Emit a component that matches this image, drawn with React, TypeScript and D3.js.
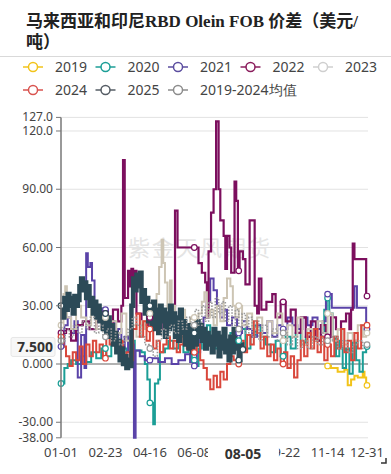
import React from 'react';
import * as d3 from 'd3';

type Pt = [number, number];

// ---- data (day of year, value) ----
const seriesNames = ['2019', '2020', '2021', '2022', '2023', '2024', '2025', '2019-2024均值'];
const seriesColors = ['#f2c31a', '#1b9e96', '#5a43a8', '#7c0f5e', '#cdc5b4', '#d9473b', '#2c4a57', '#9a9a9a'];
const legendColors = ['#f2c31a', '#1b9e96', '#5b4d9f', '#8a1c5c', '#cfcfcf', '#d9534f', '#555c64', '#8c8c8c'];

const xTickDays = [0, 53, 106, 159, 212, 265, 318, 365];
const xTickLabels = ['01-01', '02-23', '04-16', '06-08', '07-31', '09-22', '11-14', '12-31'];
const yTickValues = [127, 120, 90, 60, 30, 0, -30, -38];
const yTickLabels = ['127.0', '120.0', '90.00', '60.00', '30.00', '0.000', '-30.00', '-38.00'];

const pointerDay = 217;
const pointerDayLabel = '08-05';
const pointerValue = 7.5;
const pointerValueLabel = '7.500';

// 2019 series only starts in November
const s2019: Pt[] = [[318,-1],[322,-2],[330,-4],[338,-3],[342,-11],[346,-8],[350,-6],[354,-7],[360,-4],[362,-7],[364,-11]];

const s2020: Pt[] = [[0,-10],[4,-2],[8,0],[12,2],[18,0],[24,4],[30,1],[36,6],[42,3],[48,8],[54,4],[60,10],[66,6],[72,8],[78,3],[84,12],[88,7],[96,6],[100,0],[103,-8],[106,-20],[108,-20],[110,-31],[112,-10],[116,-8],[118,6],[124,8],[128,12],[134,8],[140,14],[146,6],[152,10],[156,2],[160,-1],[164,8],[168,14],[174,20],[178,12],[184,8],[190,14],[196,10],[202,16],[208,12],[214,18],[220,8],[226,14],[232,20],[238,14],[244,10],[250,6],[256,12],[262,4],[268,14],[274,8],[280,16],[286,10],[292,14],[298,18],[304,12],[310,16],[314,28],[317,34],[320,26],[324,14],[328,4],[332,12],[336,-2],[340,8],[344,-5],[348,12],[352,2],[356,-4],[360,6],[364,9]];

const s2021: Pt[] = [[0,9],[4,20],[8,24],[12,16],[16,22],[20,-7],[24,15],[28,-2],[30,57],[32,50],[35,52],[37,43],[40,30],[44,26],[48,18],[52,28],[56,14],[60,22],[64,10],[68,18],[72,8],[76,14],[80,6],[84,10],[87,-38],[89,7],[94,4],[100,2],[108,3],[116,1],[124,3],[132,0],[140,2],[148,5],[154,1],[158,-1],[162,6],[166,14],[170,24],[174,32],[178,44],[182,38],[186,30],[190,24],[194,28],[198,20],[204,24],[210,16],[216,22],[222,18],[228,14],[234,20],[240,16],[246,22],[252,14],[258,20],[264,18],[270,24],[276,20],[282,18],[288,24],[294,20],[300,24],[306,18],[312,22],[316,36],[323,29],[350,40],[353,29],[364,18]];

const s2022: Pt[] = [[0,16],[6,18],[12,12],[18,20],[26,22],[34,18],[42,22],[50,26],[56,20],[62,28],[68,22],[72,30],[74,105],[76,34],[80,48],[82,40],[84,49],[86,42],[88,48],[90,26],[96,20],[104,24],[112,18],[120,22],[128,20],[134,24],[136,79],[139,60],[160,60],[164,52],[168,47],[172,42],[174,24],[176,58],[179,78],[182,90],[185,125],[188,90],[190,74],[194,66],[196,49],[198,66],[201,60],[203,47],[207,94],[209,84],[211,48],[213,58],[217,54],[220,41],[225,74],[230,74],[231,30],[234,26],[236,44],[239,28],[245,32],[252,36],[256,24],[262,32],[268,22],[274,28],[280,16],[286,24],[292,14],[298,22],[304,12],[310,20],[316,14],[322,24],[328,18],[334,22],[340,26],[344,18],[346,28],[348,62],[350,54],[362,54],[364,35]];

const s2023: Pt[] = [[0,20],[3,36],[5,40],[7,24],[12,18],[18,30],[24,24],[30,20],[36,28],[42,18],[48,24],[54,14],[60,22],[66,16],[72,26],[78,12],[84,20],[90,14],[96,22],[100,18],[106,26],[112,20],[114,36],[117,50],[120,64],[122,52],[124,42],[127,29],[130,43],[132,30],[136,22],[142,28],[148,20],[154,24],[160,18],[164,26],[168,32],[171,37],[174,24],[178,28],[182,20],[186,30],[190,22],[194,34],[198,44],[202,40],[205,30],[208,24],[212,30],[216,20],[222,26],[228,18],[234,24],[240,14],[246,22],[252,16],[258,26],[264,12],[270,20],[276,14],[282,24],[288,10],[294,18],[300,12],[306,22],[312,16],[318,26],[324,12],[330,18],[336,10],[342,16],[348,12],[354,20],[360,14],[364,16]];

const s2024: Pt[] = [[0,14],[3,9],[6,4],[10,-1],[14,6],[18,2],[22,9],[26,0],[30,10],[34,4],[38,12],[42,6],[46,10],[50,3],[54,14],[58,10],[62,15],[66,8],[70,12],[74,3],[78,6],[82,2],[86,18],[90,26],[94,14],[98,22],[102,12],[106,18],[110,8],[114,12],[118,6],[122,10],[126,14],[130,8],[134,12],[138,6],[142,10],[146,16],[150,8],[154,12],[158,6],[162,10],[166,2],[170,-2],[174,-8],[178,-13],[182,-6],[186,-12],[190,-4],[194,-8],[198,0],[202,4],[206,2],[210,0],[214,12],[218,6],[222,15],[226,10],[230,22],[234,16],[238,8],[242,14],[246,4],[250,10],[254,2],[258,8],[262,0],[266,6],[270,-2],[274,4],[278,-7],[282,2],[286,12],[290,4],[294,16],[298,8],[302,18],[306,6],[310,14],[314,2],[318,10],[322,4],[326,14],[330,8],[334,18],[338,6],[342,12],[346,2],[350,16],[354,8],[358,20],[364,20]];

const s2025: Pt[] = [[0,30],[2,24],[4,34],[6,28],[8,36],[10,30],[12,34],[14,26],[16,35],[18,30],[20,33],[22,40],[24,44],[26,38],[28,42],[30,34],[32,40],[34,30],[36,34],[38,26],[40,32],[42,24],[44,30],[46,22],[48,28],[50,18],[52,26],[54,16],[56,24],[58,14],[60,20],[62,10],[64,16],[66,6],[68,12],[70,2],[72,8],[74,0],[76,4],[78,-2],[80,2],[82,-1],[84,30],[86,44],[88,38],[90,46],[92,40],[94,47],[96,32],[98,38],[100,26],[102,34],[104,22],[106,30],[108,20],[110,32],[112,18],[114,28],[116,16],[118,30],[120,22],[122,28],[124,14],[126,26],[128,18],[130,30],[132,20],[134,26],[136,14],[138,24],[140,12],[142,28],[144,16],[146,22],[148,10],[150,20],[152,8],[154,18],[156,6],[158,16],[160,10],[162,22],[164,14],[166,20],[168,12],[170,18],[172,8],[174,16],[176,10],[178,14],[180,6],[182,18],[184,10],[186,16],[188,4],[190,14],[192,8],[194,18],[196,6],[198,12],[200,2],[202,14],[204,6],[206,18],[208,8],[210,12],[212,2],[214,10],[216,7.5]];

const sAvg: Pt[] = [[0,12],[5,18],[10,14],[15,20],[20,16],[25,22],[30,18],[35,24],[40,16],[45,20],[50,14],[55,18],[60,12],[65,16],[70,10],[75,14],[80,18],[85,24],[90,20],[95,14],[100,10],[105,8],[110,4],[115,12],[120,18],[125,14],[130,20],[135,16],[140,22],[145,18],[150,24],[155,20],[160,28],[164,20],[168,30],[172,22],[176,32],[180,24],[184,34],[188,26],[192,32],[196,22],[200,30],[204,20],[208,28],[212,18],[216,26],[220,16],[224,24],[228,14],[232,22],[236,12],[240,20],[246,14],[252,18],[258,12],[264,16],[270,10],[276,14],[282,8],[288,12],[294,8],[300,14],[306,10],[312,16],[318,12],[324,14],[330,8],[336,12],[342,6],[348,10],[354,12],[360,8],[364,10]];

const allSeries = [s2019, s2020, s2021, s2022, s2023, s2024, s2025, sAvg];

const W = 391;
const H = 474;

// step lookup for the symbol positions
function valueAt(data: Pt[], day: number): number | null {
  if (day < data[0][0] || day > data[data.length - 1][0] + 1) return null;
  let v = data[0][1];
  for (const [d, val] of data) {
    if (d <= day) v = val; else break;
  }
  return v;
}

export default function App() {
  const x = d3.scaleLinear().domain([0, 365]).range([61, 367]);
  const y = d3.scaleLinear().domain([-38, 127]).range([437.8, 117.4]);

  const line = d3.line<Pt>()
    .x(d => x(d[0]))
    .y(d => y(d[1]))
    .curve(d3.curveStepAfter);

  const widths = [2, 2, 2, 2.2, 2, 2, 4.5, 1.6];

  const axisFont = '"Noto Sans", "Open Sans", sans-serif';
  const boxLeft = x(pointerDay) - 35;
  const boxRight = x(pointerDay) + 36;

  return (
    <div style={{ position: 'absolute', left: 0, top: 0, width: W, height: H, background: '#fff' }}>
      <svg width={W} height={H} style={{ display: 'block' }}>
        {/* title */}
        <g fill="#222" fontWeight="bold" fontSize={17} fontFamily='"Liberation Serif", "Noto Sans CJK SC", serif'>
          <text x={26} y={27}>马来西亚和印尼RBD Olein FOB 价差（美元/</text>
          <text x={26} y={48}>吨）</text>
        </g>
        <line x1={0} x2={W} y1={56.5} y2={56.5} stroke="#d9d9d9" strokeWidth={1} />

        {/* legend */}
        {seriesNames.map((name, i) => {
          const row = i < 5 ? 0 : 1;
          const col = i < 5 ? i : i - 5;
          const cx = 33 + col * 72.5;
          const cy = row === 0 ? 67 : 90;
          return (
            <g key={name}>
              <line x1={cx - 10} x2={cx + 10} y1={cy} y2={cy} stroke={legendColors[i]} strokeWidth={1.5} />
              <circle cx={cx} cy={cy} r={4.5} fill="#fff" stroke={legendColors[i]} strokeWidth={1.5} />
              <text x={cx + 22} y={cy + 5} fontSize={14} fill="#444" fontFamily={axisFont}>{name}</text>
            </g>
          );
        })}

        {/* grid */}
        {yTickValues.map(v => (
          <line key={'g' + v} x1={61} x2={368} y1={y(v)} y2={y(v)}
            stroke={v === 0 ? '#666' : '#e2e2e2'} strokeWidth={v === 0 ? 1.2 : 1} />
        ))}

        {/* watermark */}
        <text x={200} y={256} textAnchor="middle" fontSize={22} fill="#e4e4e4" letterSpacing={2}
          fontFamily='"Noto Sans CJK SC", sans-serif'>紫金天风期货</text>

        {/* series */}
        {allSeries.map((data, i) => (
          <path key={'s' + i} d={line(data) || ''} fill="none" stroke={seriesColors[i]}
            strokeWidth={widths[i]} strokeLinejoin="miter"
            strokeDasharray={i === 7 ? '1.5 1.5' : undefined} />
        ))}

        {/* symbols at labelled intervals */}
        {allSeries.map((data, i) => xTickDays.map(dd => {
          const last = data[data.length - 1][0];
          const day = dd === 365 ? last : dd;
          const v = valueAt(data, day);
          if (v === null) return null;
          return (
            <circle key={'c' + i + '-' + dd} cx={x(dd === 365 ? last + 1 : dd)} cy={y(v)} r={2.8}
              fill="#fff" stroke={seriesColors[i]} strokeWidth={1.2} />
          );
        }))}

        {/* y axis */}
        <line x1={61} x2={61} y1={y(127)} y2={y(-38)} stroke="#777" strokeWidth={1.5} />
        {yTickValues.map((v, i) => (
          <g key={'yt' + v}>
            <line x1={56} x2={61} y1={y(v)} y2={y(v)} stroke="#777" strokeWidth={1} />
            <text x={53} y={y(v) + 4} textAnchor="end" fontSize={12} fill="#444" fontFamily={axisFont}>{yTickLabels[i]}</text>
          </g>
        ))}

        {/* x axis labels (the one under the pointer label is hidden) */}
        {xTickDays.map((dd, i) => (
          x(dd) > boxLeft && x(dd) < boxRight ? null :
          <text key={'xt' + dd} x={x(dd)} y={457} textAnchor="middle" fontSize={13} fill="#444" fontFamily={axisFont}>{xTickLabels[i]}</text>
        ))}

        {/* axis pointer labels */}
        <g>
          <rect x={boxLeft} y={444} width={boxRight - boxLeft} height={19} fill="#fff" />
          <text x={x(pointerDay)} y={458.5} textAnchor="middle" fontSize={14} fontWeight="bold" fill="#333" fontFamily={axisFont}>{pointerDayLabel}</text>
        </g>
        <g>
          <rect x={11} y={y(pointerValue) - 12} width={44} height={19} rx={2} fill="#f7f7f7" stroke="#e6e6e6" />
          <text x={53} y={y(pointerValue) + 2.5} textAnchor="end" fontSize={14} fontWeight="bold" fill="#333" fontFamily={axisFont}>{pointerValueLabel}</text>
        </g>
        <path d="M381,463 L386,463 L386,458" fill="none" stroke="#333" strokeWidth={1.5} />
      </svg>
    </div>
  );
}
